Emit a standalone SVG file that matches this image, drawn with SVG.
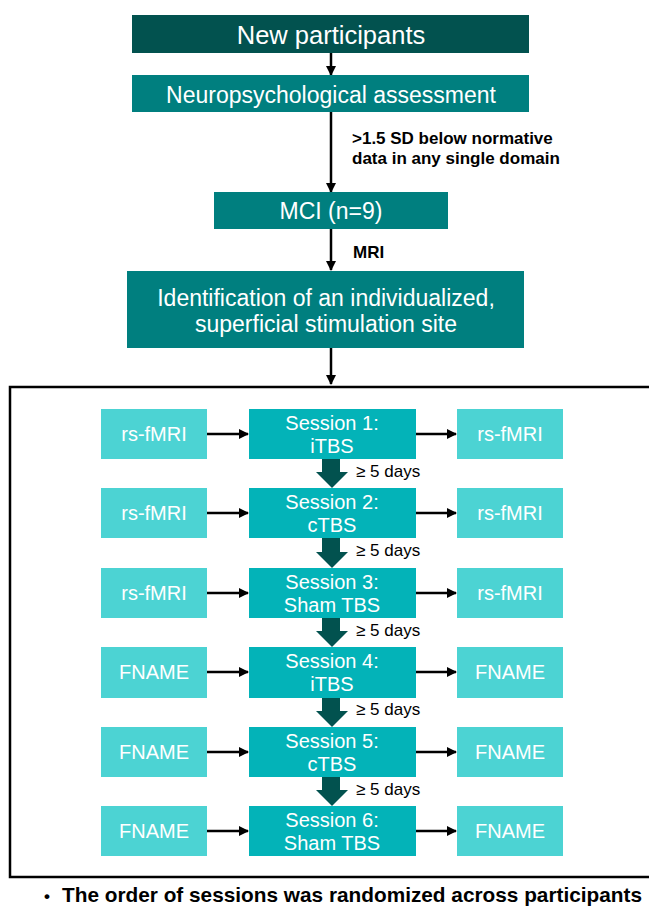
<svg xmlns="http://www.w3.org/2000/svg" width="649" height="906" viewBox="0 0 649 906">
<defs>
<style>
text{font-family:"Liberation Sans",Arial,sans-serif;}
.w{fill:#fff;text-anchor:middle;}
.s{font-size:20px;}
.lt{fill:#4cd3d3;}
.md{fill:#03b3b8;}
.ln{stroke:#000;stroke-width:2.5;fill:none;marker-end:url(#ah);}
.blk{fill:#000;font-weight:bold;font-size:17px;}
.days{fill:#000;font-size:17px;}
.ba{fill:#02524f;}
</style>
<marker id="ah" viewBox="0 0 10 10" refX="9" refY="5" markerWidth="4" markerHeight="4" orient="auto" markerUnits="strokeWidth">
<path d="M0,0 L10,5 L0,10 z" fill="#000"/>
</marker>
</defs>
<rect width="649" height="906" fill="#fff"/>

<g id="connectors">
<line class="ln" x1="331" y1="53" x2="331" y2="75"/>
<line class="ln" x1="331" y1="112" x2="331" y2="192"/>
<line class="ln" x1="331" y1="229" x2="331" y2="270"/>
<line class="ln" x1="331" y1="348" x2="331" y2="384"/>
<g id="h-arrows">
<line class="ln" x1="207" y1="434" x2="248" y2="434"/><line class="ln" x1="416" y1="434" x2="456" y2="434"/>
<line class="ln" x1="207" y1="513" x2="248" y2="513"/><line class="ln" x1="416" y1="513" x2="456" y2="513"/>
<line class="ln" x1="207" y1="593" x2="248" y2="593"/><line class="ln" x1="416" y1="593" x2="456" y2="593"/>
<line class="ln" x1="207" y1="672" x2="248" y2="672"/><line class="ln" x1="416" y1="672" x2="456" y2="672"/>
<line class="ln" x1="207" y1="752" x2="248" y2="752"/><line class="ln" x1="416" y1="752" x2="456" y2="752"/>
<line class="ln" x1="207" y1="831" x2="248" y2="831"/><line class="ln" x1="416" y1="831" x2="456" y2="831"/>
</g>
<g id="block-arrows">
<path class="ba" d="M322,459 H340 V472 H348 L332,488 L316,472 H322 Z"/>
<path class="ba" d="M322,538 H340 V552 H348 L332,568 L316,552 H322 Z"/>
<path class="ba" d="M322,618 H340 V631 H348 L332,647 L316,631 H322 Z"/>
<path class="ba" d="M322,698 H340 V711 H348 L332,727 L316,711 H322 Z"/>
<path class="ba" d="M322,777 H340 V790 H348 L332,806 L316,790 H322 Z"/>
</g>
</g>

<text class="blk" x="352" y="144">&gt;1.5 SD below normative</text>
<text class="blk" x="352" y="164">data in any single domain</text>
<text class="blk" x="353" y="258">MRI</text>
<text class="days" x="356" y="477">≥ 5 days</text>
<text class="days" x="356" y="556">≥ 5 days</text>
<text class="days" x="356" y="636">≥ 5 days</text>
<text class="days" x="356" y="715">≥ 5 days</text>
<text class="days" x="356" y="795">≥ 5 days</text>

<g id="new-participants"><rect x="132" y="15" width="397" height="38" fill="#02524f"/><text class="w" x="331" y="44" font-size="25.5">New participants</text></g>
<g id="neuropsych"><rect x="132" y="75" width="397" height="37" fill="#007f7f"/><text class="w" x="331" y="103" font-size="23">Neuropsychological assessment</text></g>
<g id="mci"><rect x="214" y="192" width="234" height="37" fill="#007f7f"/><text class="w" x="331" y="219" font-size="23">MCI (n=9)</text></g>
<g id="identification"><rect x="127" y="271" width="397" height="77" fill="#007f7f"/><text class="w" x="326" y="306" font-size="23">Identification of an individualized,</text><text class="w" x="326" y="332" font-size="23">superficial stimulation site</text></g>

<g id="session-box"><rect x="10" y="387" width="660" height="490" fill="none" stroke="#000" stroke-width="2.5"/></g>

<g id="row1">
<g id="r1-pre"><rect class="lt" x="101" y="409" width="106" height="50"/><text class="w s" x="154" y="441">rs-fMRI</text></g>
<g id="s1"><rect class="md" x="249" y="409" width="167" height="50"/><text class="w s" x="332" y="430">Session 1:</text><text class="w s" x="332" y="453">iTBS</text></g>
<g id="r1-post"><rect class="lt" x="457" y="409" width="106" height="50"/><text class="w s" x="510" y="441">rs-fMRI</text></g>
</g>
<g id="row2">
<g id="r2-pre"><rect class="lt" x="101" y="488" width="106" height="50"/><text class="w s" x="154" y="520">rs-fMRI</text></g>
<g id="s2"><rect class="md" x="249" y="488" width="167" height="50"/><text class="w s" x="332" y="509">Session 2:</text><text class="w s" x="332" y="532">cTBS</text></g>
<g id="r2-post"><rect class="lt" x="457" y="488" width="106" height="50"/><text class="w s" x="510" y="520">rs-fMRI</text></g>
</g>
<g id="row3">
<g id="r3-pre"><rect class="lt" x="101" y="568" width="106" height="50"/><text class="w s" x="154" y="600">rs-fMRI</text></g>
<g id="s3"><rect class="md" x="249" y="568" width="167" height="50"/><text class="w s" x="332" y="589">Session 3:</text><text class="w s" x="332" y="612">Sham TBS</text></g>
<g id="r3-post"><rect class="lt" x="457" y="568" width="106" height="50"/><text class="w s" x="510" y="600">rs-fMRI</text></g>
</g>
<g id="row4">
<g id="r4-pre"><rect class="lt" x="101" y="647" width="106" height="51"/><text class="w s" x="154" y="679">FNAME</text></g>
<g id="s4"><rect class="md" x="249" y="647" width="167" height="51"/><text class="w s" x="332" y="668">Session 4:</text><text class="w s" x="332" y="691">iTBS</text></g>
<g id="r4-post"><rect class="lt" x="457" y="647" width="106" height="51"/><text class="w s" x="510" y="679">FNAME</text></g>
</g>
<g id="row5">
<g id="r5-pre"><rect class="lt" x="101" y="727" width="106" height="50"/><text class="w s" x="154" y="759">FNAME</text></g>
<g id="s5"><rect class="md" x="249" y="727" width="167" height="50"/><text class="w s" x="332" y="748">Session 5:</text><text class="w s" x="332" y="771">cTBS</text></g>
<g id="r5-post"><rect class="lt" x="457" y="727" width="106" height="50"/><text class="w s" x="510" y="759">FNAME</text></g>
</g>
<g id="row6">
<g id="r6-pre"><rect class="lt" x="101" y="806" width="106" height="50"/><text class="w s" x="154" y="838">FNAME</text></g>
<g id="s6"><rect class="md" x="249" y="806" width="167" height="50"/><text class="w s" x="332" y="827">Session 6:</text><text class="w s" x="332" y="850">Sham TBS</text></g>
<g id="r6-post"><rect class="lt" x="457" y="806" width="106" height="50"/><text class="w s" x="510" y="838">FNAME</text></g>
</g>

<text x="44" y="902" font-size="17" font-weight="bold" fill="#000">•</text>
<text x="62" y="902" font-size="20.5" font-weight="bold" fill="#000" textLength="580" lengthAdjust="spacingAndGlyphs">The order of sessions was randomized across participants</text>
</svg>
